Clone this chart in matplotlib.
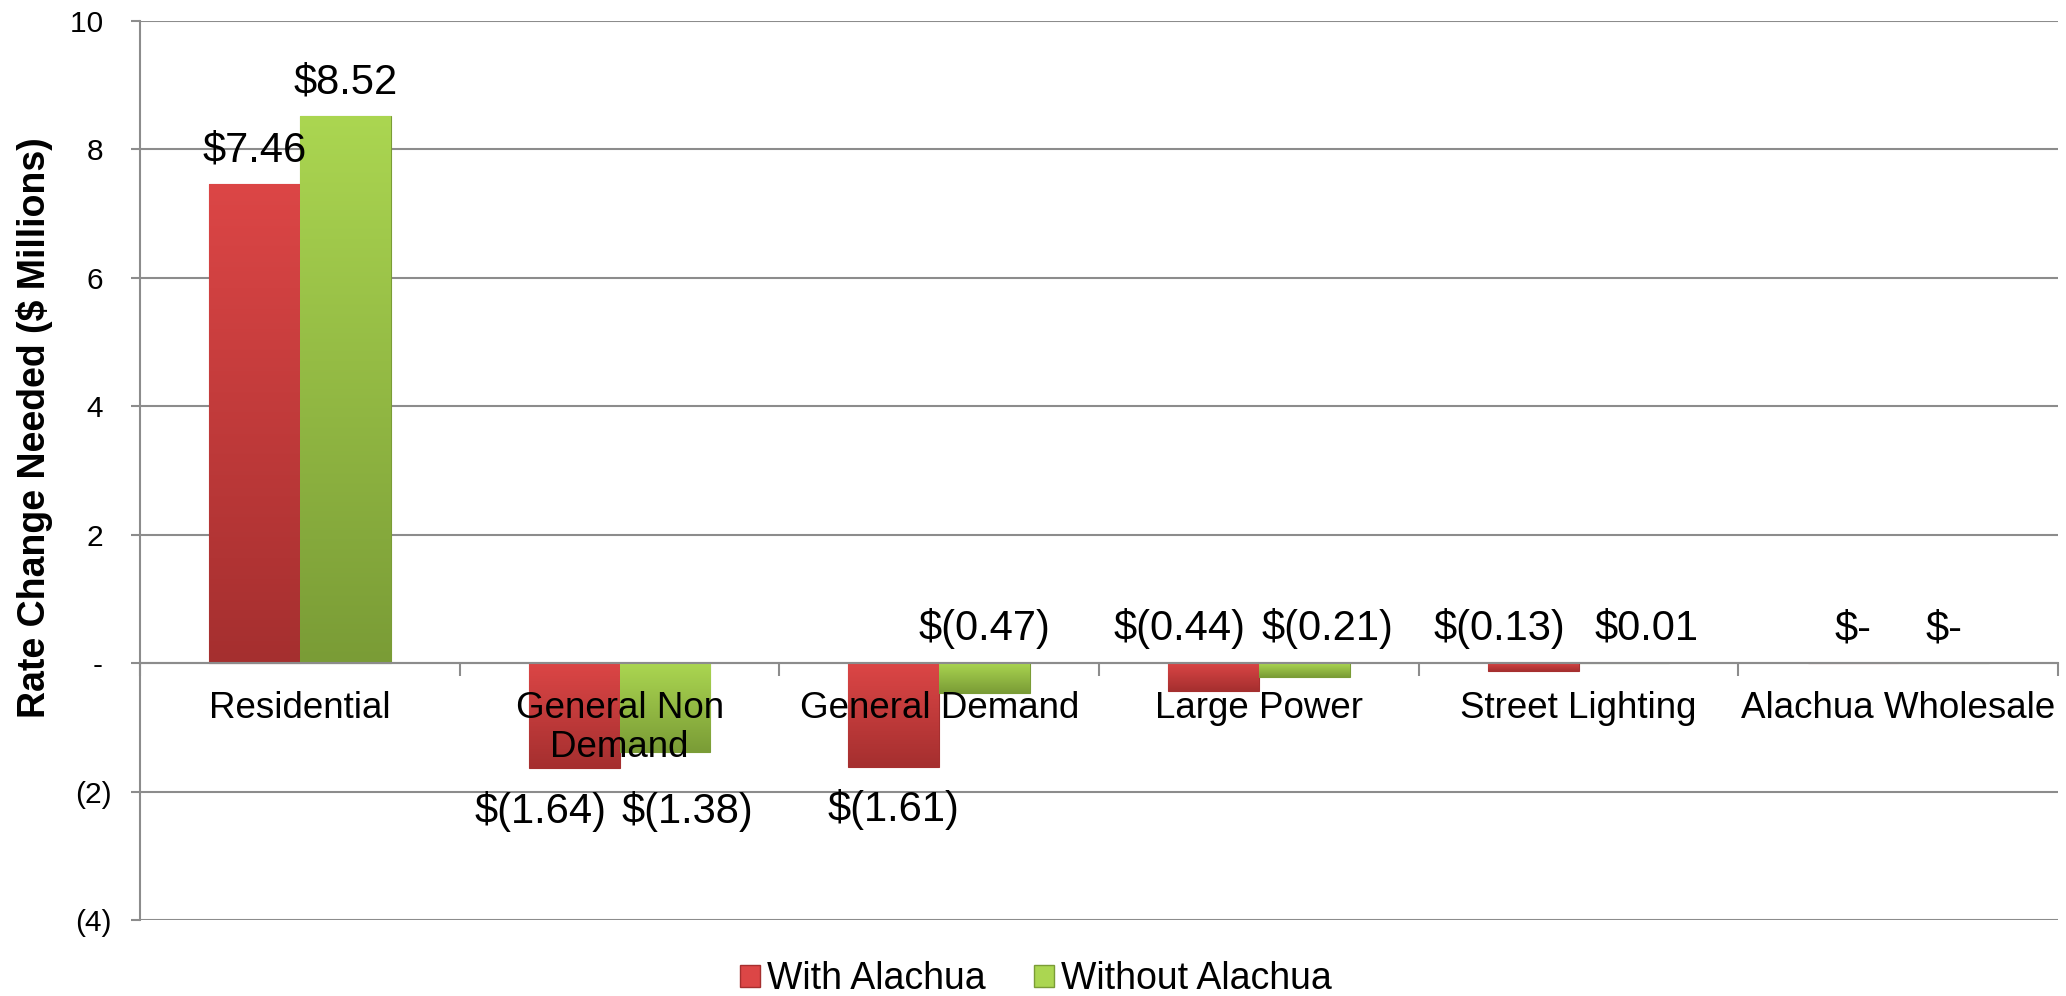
import matplotlib
matplotlib.use('Agg')
import numpy as np
import matplotlib.pyplot as plt
from matplotlib.colors import LinearSegmentedColormap
from matplotlib.patches import Patch

plt.rcParams['font.family'] = ['Liberation Sans', 'DejaVu Sans']

categories = ['Residential', 'General Non\nDemand', 'General Demand',
              'Large Power', 'Street Lighting', 'Alachua Wholesale']
with_alachua = [7.46, -1.64, -1.61, -0.44, -0.13, 0.0]
without_alachua = [8.52, -1.38, -0.47, -0.21, 0.01, 0.0]
series_names = ['With Alachua', 'Without Alachua']
y_ticks = [-4, -2, 0, 2, 4, 6, 8, 10]
# accounting format: positives keep a space where ")" would be
y_tick_labels = ['(4)', '(2)', '- ', '2 ', '4 ', '6 ', '8 ', '10 ']

# colours (bottom, top) for gradient fill
red_grad = ('#a52f2f', '#dc4646')
green_grad = ('#7a9c36', '#abd651')


def money(v):
    if v > 0:
        return r'\$%.2f' % v
    if v < 0:
        return r'\$(%.2f)' % abs(v)
    return r'\$-'


fig = plt.figure(figsize=(20.66, 9.96), dpi=100)
ax = fig.add_axes([0.0678, 0.0763, 0.9284, 0.9026])

# spine first: moving it resets the tick settings
grid_col = '#8c8c8c'
ax.spines['bottom'].set_position(('data', 0))
ax.spines['bottom'].set_color(grid_col)
ax.spines['bottom'].set_linewidth(1.5)
ax.spines['left'].set_color(grid_col)
ax.spines['left'].set_linewidth(1.5)
ax.spines['top'].set_visible(False)
ax.spines['right'].set_visible(False)

x = np.arange(len(categories))
w = 0.284

for vals, off, grad in [(with_alachua, -w / 2, red_grad), (without_alachua, w / 2, green_grad)]:
    bars = ax.bar(x + off, vals, width=w, color=grad[1], edgecolor=grad[0],
                  linewidth=0.8, zorder=2)
    cmap = LinearSegmentedColormap.from_list('g', list(grad))
    for b in bars:
        h = b.get_height()
        if h == 0:
            continue
        x0 = b.get_x()
        lo, hi = min(0, h), max(0, h)
        im = ax.imshow(np.linspace(0, 1, 256).reshape(-1, 1), cmap=cmap,
                       extent=[x0, x0 + b.get_width(), lo, hi], origin='lower',
                       aspect='auto', zorder=2.1)
        im.set_clip_path(b)

# data labels, placed roughly the way Excel did it
for i in range(len(categories)):
    pair = [with_alachua[i], without_alachua[i]]
    rows = []
    for v in pair:
        if v < -1:
            rows.append(('below', min(pair)))
        else:
            rows.append(('above', max(v, 0)))
    same_row = (rows[0][0] == rows[1][0] and abs(rows[0][1] - rows[1][1]) < 0.5
                and any(pair))
    for k, v in enumerate(pair):
        xc = x[i] + (-w / 2 if k == 0 else w / 2)
        dx = 0
        if same_row:
            dx = -24.5 if k == 0 else 16.5
        side, anchor = rows[k]
        dy = 16.5 if side == 'above' else -39
        ax.annotate(money(v), (xc, anchor), xytext=(dx, dy), textcoords='offset points',
                    ha='center', va='baseline', fontsize=30, zorder=5)

ax.set_xlim(-0.5, len(categories) - 0.5)
ax.set_ylim(-4, 10)
ax.set_yticks(y_ticks)
ax.set_yticklabels(y_tick_labels, fontsize=21.5)
ax.yaxis.grid(True, color=grid_col, linewidth=1.5, zorder=0)
ax.set_axisbelow(True)
ax.xaxis.set_zorder(5)

ax.set_xticks(x)
ax.set_xticklabels(categories, fontsize=26.5, linespacing=1.15)
ax.set_xticks(np.arange(len(categories) + 1) - 0.5, minor=True)
ax.tick_params(axis='x', which='major', length=0, pad=20)
ax.tick_params(axis='x', which='minor', length=9, color=grid_col, width=1.5)
ax.tick_params(axis='y', length=6.5, color=grid_col, width=1.5, pad=14)

ax.set_ylabel(r'Rate Change Needed (\$ Millions)', fontsize=27, fontweight='bold')
ax.yaxis.set_label_coords(-0.0454, 0.548)

handles = [Patch(facecolor=red_grad[1], edgecolor=red_grad[0]),
           Patch(facecolor=green_grad[1], edgecolor=green_grad[0])]
fig.legend(handles, series_names, loc='center', bbox_to_anchor=(0.5015, 0.017), ncol=2,
           frameon=False, fontsize=27, handlelength=0.53, handleheight=0.53,
           handletextpad=0.2, columnspacing=1.28, borderpad=0.1)

plt.savefig('out.png', dpi=100)
plt.close()
